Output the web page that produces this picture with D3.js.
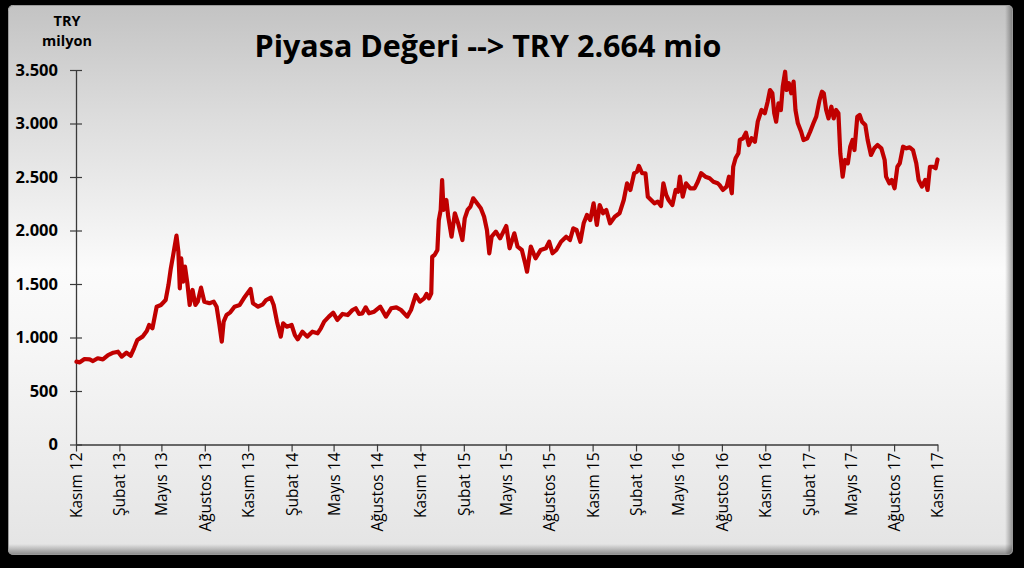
<!DOCTYPE html>
<html>
<head>
<meta charset="utf-8">
<script src="https://cdn.jsdelivr.net/npm/d3@7"></script>
<style>
  html, body { margin: 0; padding: 0; background: #000; }
  svg { display: block; }
</style>
</head>
<body>
<svg id="chart" width="1024" height="568"></svg>
<script>
// ---------- DATA ----------
const title = "Piyasa Değeri --> TRY 2.664 mio";
const unitLines = ["TRY", "milyon"];
const yTickValues = [0, 500, 1000, 1500, 2000, 2500, 3000, 3500];
const yTickLabels = ["0", "500", "1.000", "1.500", "2.000", "2.500", "3.000", "3.500"];
const xTickLabels = ["Kasım 12","Şubat 13","Mayıs 13","Ağustos 13","Kasım 13","Şubat 14","Mayıs 14","Ağustos 14",
  "Kasım 14","Şubat 15","Mayıs 15","Ağustos 15","Kasım 15","Şubat 16","Mayıs 16","Ağustos 16",
  "Kasım 16","Şubat 17","Mayıs 17","Ağustos 17","Kasım 17"];

const points2012 = [["2012-11-02",774],["2012-11-09",768],["2012-11-19",799],["2012-11-30",796],
  ["2012-12-07",780],["2012-12-17",806],["2012-12-28",796]];
const points2013 = [["2013-01-08",836],["2013-01-19",858],["2013-01-29",867],["2013-02-06",821],["2013-02-16",858],
  ["2013-02-25",830],["2013-03-04",899],["2013-03-11",977],["2013-03-22",1008],["2013-03-31",1061],["2013-04-05",1117],
  ["2013-04-12",1086],["2013-04-21",1288],["2013-04-30",1304],["2013-05-10",1350],["2013-05-16",1491],["2013-05-21",1647],
  ["2013-05-26",1771],["2013-06-02",1952],["2013-06-06",1802],["2013-06-09",1460],["2013-06-12",1740],["2013-06-16",1522],
  ["2013-06-20",1662],["2013-06-25",1507],["2013-06-30",1304],["2013-07-06",1444],["2013-07-12",1304],["2013-07-17",1335],
  ["2013-07-24",1466],["2013-07-31",1335],["2013-08-11",1320],["2013-08-20",1335],["2013-08-26",1288],["2013-09-01",1117],
  ["2013-09-06",961],["2013-09-10",1148],["2013-09-16",1210],["2013-09-24",1235],["2013-10-03",1288],["2013-10-14",1304],
  ["2013-10-25",1381],["2013-11-06",1453],["2013-11-11",1320],["2013-11-22",1288],["2013-12-02",1310],["2013-12-09",1350],
  ["2013-12-19",1372],["2013-12-25",1304]];
const points2014 = [["2014-01-01",1148],["2014-01-09",1008],["2014-01-14",1133],["2014-01-22",1101],["2014-02-01",1117],
  ["2014-02-08",1023],["2014-02-14",983],["2014-02-24",1054],["2014-03-06",1008],["2014-03-17",1054],["2014-03-28",1039],
  ["2014-04-04",1086],["2014-04-11",1148],["2014-04-21",1195],["2014-04-30",1232],["2014-05-09",1164],["2014-05-20",1220],
  ["2014-05-31",1210],["2014-06-10",1257],["2014-06-17",1273],["2014-06-24",1220],["2014-07-01",1226],["2014-07-08",1282],
  ["2014-07-15",1226],["2014-07-26",1241],["2014-08-08",1288],["2014-08-20",1195],["2014-08-31",1273],["2014-09-11",1282],
  ["2014-09-21",1257],["2014-10-04",1195],["2014-10-12",1257],["2014-10-22",1397],["2014-10-31",1335],["2014-11-09",1366],
  ["2014-11-14",1407],["2014-11-19",1366],["2014-11-24",1413],["2014-11-26",1755],["2014-12-01",1771],["2014-12-07",1818],
  ["2014-12-10",2098],["2014-12-14",2192],["2014-12-17",2472],["2014-12-20",2192],["2014-12-26",2285],["2014-12-30",2129]];
const points2015 = [["2015-01-06",1942],["2015-01-13",2161],["2015-01-20",2067],["2015-01-29",1911],["2015-02-03",2114],
  ["2015-02-09",2192],["2015-02-15",2223],["2015-02-21",2301],["2015-03-01",2254],["2015-03-09",2208],["2015-03-16",2129],
  ["2015-03-22",2005],["2015-03-27",1787],["2015-04-01",1942],["2015-04-10",1989],["2015-04-19",1927],["2015-04-26",1989],
  ["2015-05-02",2042],["2015-05-09",1834],["2015-05-19",1974],["2015-05-26",1849],["2015-06-04",1818],["2015-06-11",1693],
  ["2015-06-15",1615],["2015-06-23",1849],["2015-07-03",1740],["2015-07-14",1818],["2015-07-25",1834],["2015-08-01",1895],
  ["2015-08-08",1787],["2015-08-16",1818],["2015-08-26",1895],["2015-09-06",1942],["2015-09-14",1911],["2015-09-21",2020],
  ["2015-09-28",2005],["2015-10-06",1895],["2015-10-13",2067],["2015-10-20",2145],["2015-10-27",2098],["2015-11-03",2254],
  ["2015-11-10",2052],["2015-11-16",2238],["2015-11-23",2161],["2015-11-30",2192],["2015-12-08",2067],["2015-12-18",2129],
  ["2015-12-28",2161]];
const points2016 = [["2016-01-06",2285],["2016-01-13",2441],["2016-01-20",2379],["2016-01-28",2535],["2016-02-03",2550],
  ["2016-02-07",2603],["2016-02-14",2535],["2016-02-21",2535],["2016-02-26",2316],["2016-03-04",2285],["2016-03-11",2254],
  ["2016-03-18",2270],["2016-03-25",2229],["2016-03-30",2441],["2016-04-05",2332],["2016-04-10",2285],["2016-04-18",2238],
  ["2016-04-25",2379],["2016-04-30",2363],["2016-05-04",2503],["2016-05-10",2316],["2016-05-17",2441],["2016-05-26",2394],
  ["2016-06-04",2394],["2016-06-11",2456],["2016-06-18",2535],["2016-06-27",2503],["2016-07-06",2488],["2016-07-14",2456],
  ["2016-07-23",2441],["2016-07-27",2425],["2016-08-03",2379],["2016-08-11",2410],["2016-08-16",2503],["2016-08-22",2348],
  ["2016-08-25",2596],["2016-08-30",2675],["2016-09-05",2722],["2016-09-08",2846],["2016-09-15",2862],["2016-09-21",2914],
  ["2016-09-27",2799],["2016-10-03",2862],["2016-10-10",2830],["2016-10-16",3017],["2016-10-24",3126],["2016-10-31",3095],
  ["2016-11-06",3204],["2016-11-11",3313],["2016-11-16",3282],["2016-11-20",3095],["2016-11-24",3017],["2016-11-29",3189],
  ["2016-12-04",3126],["2016-12-08",3344],["2016-12-13",3484],["2016-12-16",3313],["2016-12-21",3376],["2016-12-26",3282],
  ["2016-12-31",3391]];
const points2017 = [["2017-01-04",3126],["2017-01-09",3002],["2017-01-16",2923],["2017-01-21",2846],["2017-01-29",2862],
  ["2017-02-04",2923],["2017-02-11",3002],["2017-02-17",3064],["2017-02-24",3220],["2017-03-01",3297],["2017-03-05",3282],
  ["2017-03-10",3126],["2017-03-15",3048],["2017-03-21",3157],["2017-03-26",3048],["2017-03-31",3126],["2017-04-05",3095],
  ["2017-04-09",2722],["2017-04-14",2503],["2017-04-19",2659],["2017-04-25",2628],["2017-04-30",2783],["2017-05-05",2846],
  ["2017-05-09",2752],["2017-05-15",3064],["2017-05-20",3080],["2017-05-25",3017],["2017-06-01",2986],["2017-06-06",2846],
  ["2017-06-13",2706],["2017-06-20",2768],["2017-06-27",2799],["2017-07-05",2768],["2017-07-12",2659],["2017-07-15",2503],
  ["2017-07-22",2441],["2017-07-27",2472],["2017-08-02",2394],["2017-08-08",2596],["2017-08-13",2628],["2017-08-20",2783],
  ["2017-08-27",2768],["2017-09-03",2777],["2017-09-10",2752],["2017-09-17",2628],["2017-09-22",2472],["2017-09-29",2410],
  ["2017-10-06",2472],["2017-10-11",2379],["2017-10-16",2596],["2017-10-23",2596],["2017-10-28",2581],["2017-11-01",2664]];

// ---------- SETUP ----------
const parse = d3.timeParse("%Y-%m-%d");
const series = [].concat(points2012, points2013, points2014, points2015, points2016, points2017)
  .map(([d, v]) => ({ date: parse(d), value: v }));

const svg = d3.select("#chart");
const W = 1024, H = 568;
const panel = { x: 8, y: 5, w: 1005, h: 550 };
const plot = { left: 76, right: 937.5, top: 70, bottom: 444.5 };

const defs = svg.append("defs");
const bg = defs.append("linearGradient").attr("id", "bgGrad").attr("x1", 0).attr("y1", 0).attr("x2", 0).attr("y2", 1);
bg.append("stop").attr("offset", "0%").attr("stop-color", "#c3c3c3");
bg.append("stop").attr("offset", "20%").attr("stop-color", "#dcdcdc");
bg.append("stop").attr("offset", "48%").attr("stop-color", "#fbfbfb");
bg.append("stop").attr("offset", "62%").attr("stop-color", "#f6f6f6");
bg.append("stop").attr("offset", "100%").attr("stop-color", "#e4e4e4");

const rg = defs.append("linearGradient").attr("id", "rightShade").attr("x1", 0).attr("y1", 0).attr("x2", 1).attr("y2", 0);
rg.append("stop").attr("offset", "0%").attr("stop-color", "#000").attr("stop-opacity", 0);
rg.append("stop").attr("offset", "100%").attr("stop-color", "#000").attr("stop-opacity", 0.38);
const bgB = defs.append("linearGradient").attr("id", "bottomShade").attr("x1", 0).attr("y1", 0).attr("x2", 0).attr("y2", 1);
bgB.append("stop").attr("offset", "0%").attr("stop-color", "#000").attr("stop-opacity", 0);
bgB.append("stop").attr("offset", "100%").attr("stop-color", "#000").attr("stop-opacity", 0.4);

defs.append("clipPath").attr("id", "panelClip").append("rect")
  .attr("x", panel.x).attr("y", panel.y).attr("width", panel.w).attr("height", panel.h).attr("rx", 5);

svg.append("rect").attr("width", W).attr("height", H).attr("fill", "#000");
const pg = svg.append("g").attr("clip-path", "url(#panelClip)");
pg.append("rect").attr("x", panel.x).attr("y", panel.y).attr("width", panel.w).attr("height", panel.h)
  .attr("fill", "url(#bgGrad)");
pg.append("rect").attr("x", panel.x + panel.w - 8).attr("y", panel.y).attr("width", 8).attr("height", panel.h)
  .attr("fill", "url(#rightShade)");
pg.append("rect").attr("x", panel.x).attr("y", panel.y + panel.h - 11).attr("width", panel.w).attr("height", 11)
  .attr("fill", "url(#bottomShade)");
pg.append("rect").attr("x", panel.x + 0.5).attr("y", panel.y + 0.5).attr("width", panel.w - 1).attr("height", panel.h - 1)
  .attr("rx", 5).attr("fill", "none").attr("stroke", "#9a9a9a").attr("stroke-width", 1);

// ---------- SCALES ----------
const startDate = parse("2012-11-01");
const xTickDates = d3.range(xTickLabels.length).map(i => d3.timeMonth.offset(startDate, 3 * i));
const x = d3.scaleTime().domain([startDate, xTickDates[xTickDates.length - 1]]).range([plot.left, plot.right]);
const y = d3.scaleLinear().domain([0, 3500]).range([plot.bottom, plot.top]);

// ---------- AXES ----------
const axisColor = "#3a3a3a";
const yAxis = svg.append("g").attr("transform", `translate(${plot.left},0)`)
  .call(d3.axisLeft(y).tickValues(yTickValues).tickFormat((d, i) => yTickLabels[i]).tickSizeInner(6).tickSizeOuter(0).tickPadding(14));
yAxis.select(".domain").attr("stroke", axisColor).attr("stroke-width", 1.3);
yAxis.selectAll(".tick line").attr("x1", 6).attr("x2", -6).attr("stroke", axisColor).attr("stroke-width", 1.2);
yAxis.selectAll(".tick text").attr("font-family", "'Open Sans', sans-serif").attr("font-weight", "bold")
  .attr("font-size", "16.5px").attr("fill", "#000").attr("x", -18);

const xAxis = svg.append("g").attr("transform", `translate(0,${plot.bottom})`)
  .call(d3.axisBottom(x).tickValues(xTickDates).tickFormat((d, i) => xTickLabels[i]).tickSizeInner(7).tickSizeOuter(0));
xAxis.select(".domain").attr("stroke", axisColor).attr("stroke-width", 1.3);
xAxis.selectAll(".tick line").attr("stroke", axisColor).attr("stroke-width", 1.2);
xAxis.selectAll(".tick text")
  .attr("font-family", "'Open Sans', sans-serif").attr("font-size", "15.5px").attr("fill", "#000")
  .attr("text-anchor", "end").attr("transform", "translate(0,8) rotate(-90)")
  .attr("x", 0).attr("y", 0).attr("dy", "0.35em");

// ---------- LINE ----------
const line = d3.line().x(d => x(d.date)).y(d => y(d.value)).curve(d3.curveLinear);
svg.append("path").datum(series).attr("d", line)
  .attr("fill", "none").attr("stroke", "#c00000").attr("stroke-width", 4.2)
  .attr("stroke-linejoin", "round").attr("stroke-linecap", "round");

// ---------- TEXTS ----------
svg.append("text").attr("x", 488).attr("y", 57).attr("text-anchor", "middle")
  .attr("font-family", "'Open Sans', sans-serif").attr("font-weight", "bold").attr("font-size", "30.5px")
  .attr("fill", "#000").text(title);

svg.append("g").selectAll("text").data(unitLines).join("text")
  .attr("x", 67).attr("y", (d, i) => 26 + i * 20).attr("text-anchor", "middle")
  .attr("font-family", "'Open Sans', sans-serif").attr("font-weight", "bold").attr("font-size", "14.5px")
  .attr("fill", "#000").text(d => d);
</script>
</body>
</html>
